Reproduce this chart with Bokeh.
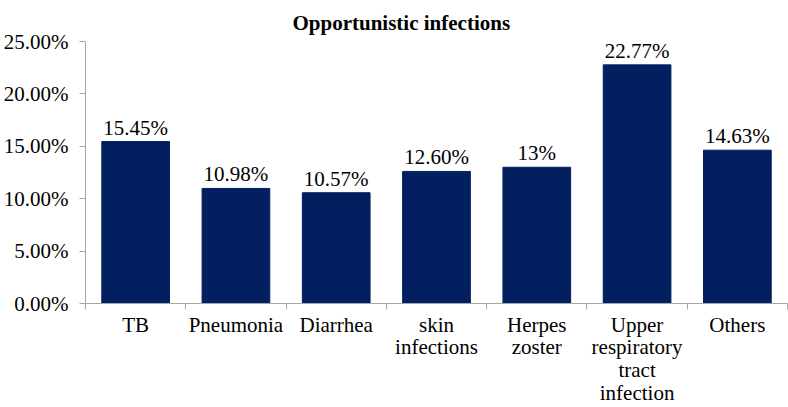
from bokeh.plotting import figure
from bokeh.models import (LinearAxis, FixedTicker, PrintfTickFormatter, Range1d,
                          ColumnDataSource)
from bokeh.core.properties import value
from bokeh.embed import file_html
from bokeh.resources import INLINE

# Opportunistic infection shares (%)
categories = ["TB", "Pneumonia", "Diarrhea", "skin\ninfections", "Herpes\nzoster",
              "Upper\nrespiratory\ntract\ninfection", "Others"]
shares = [15.45, 10.98, 10.57, 12.60, 13.0, 22.77, 14.63]
share_labels = ["15.45%", "10.98%", "10.57%", "12.60%", "13%", "22.77%", "14.63%"]
y_ticks = [0, 5, 10, 15, 20, 25]

FONT = "Liberation Serif"
FS = "21px"
BAR = "#022060"
GREY = "#a6a6a6"

centers = [i + 0.5 for i in range(len(categories))]
bounds = list(range(len(categories) + 1))
src = ColumnDataSource(dict(x=centers, top=shares, label=share_labels))

p = figure(width=788, height=407, output_backend="svg", toolbar_location=None,
           x_range=Range1d(0, len(categories)), y_range=Range1d(0, 25),
           x_axis_type=None, y_axis_type=None,
           min_border_left=82, min_border_right=1, min_border_top=41,
           min_border_bottom=104, outline_line_color=None)

p.title.text = "Opportunistic infections"
p.title.text_font = FONT
p.title.text_font_size = FS
p.title.text_font_style = "bold"
p.title.align = "left"
p.title.offset = 207
p.title.vertical_align = "top"
p.title.text_color = "black"

p.vbar(x="x", top="top", width=0.675, source=src, color=BAR)
p.text(x="x", y="top", text="label", source=src, text_align="center",
       text_baseline="bottom", y_offset=-2, text_font=value(FONT),
       text_font_size=value(FS), text_color="black")

# y axis
yax = LinearAxis(ticker=FixedTicker(ticks=y_ticks),
                 formatter=PrintfTickFormatter(format="%.2f%%"))
yax.axis_line_color = GREY
yax.major_tick_line_color = GREY
yax.major_tick_out = 6
yax.major_tick_in = 0
yax.minor_tick_line_color = None
yax.major_label_text_font = FONT
yax.major_label_text_font_size = FS
yax.major_label_text_color = "black"
yax.major_label_standoff = 11
p.add_layout(yax, "left")

# x axis: names at bar centres, tick marks between categories
xax = LinearAxis(ticker=FixedTicker(ticks=centers, minor_ticks=bounds))
xax.axis_line_color = GREY
xax.major_tick_line_color = None
xax.major_tick_out = 0
xax.major_tick_in = 0
xax.minor_tick_line_color = GREY
xax.minor_tick_out = 6
xax.minor_tick_in = 0
xax.major_label_overrides = {c: n for c, n in zip(centers, categories)}
xax.major_label_text_font = FONT
xax.major_label_text_font_size = FS
xax.major_label_text_color = "black"
xax.major_label_text_line_height = 0.95
xax.major_label_standoff = 3
p.add_layout(xax, "below")

p.xgrid.visible = False
p.ygrid.ticker = FixedTicker(ticks=y_ticks)
p.ygrid.grid_line_color = GREY
p.ygrid.grid_line_width = 1.5

open("out.html", "w").write(file_html(p, INLINE))
